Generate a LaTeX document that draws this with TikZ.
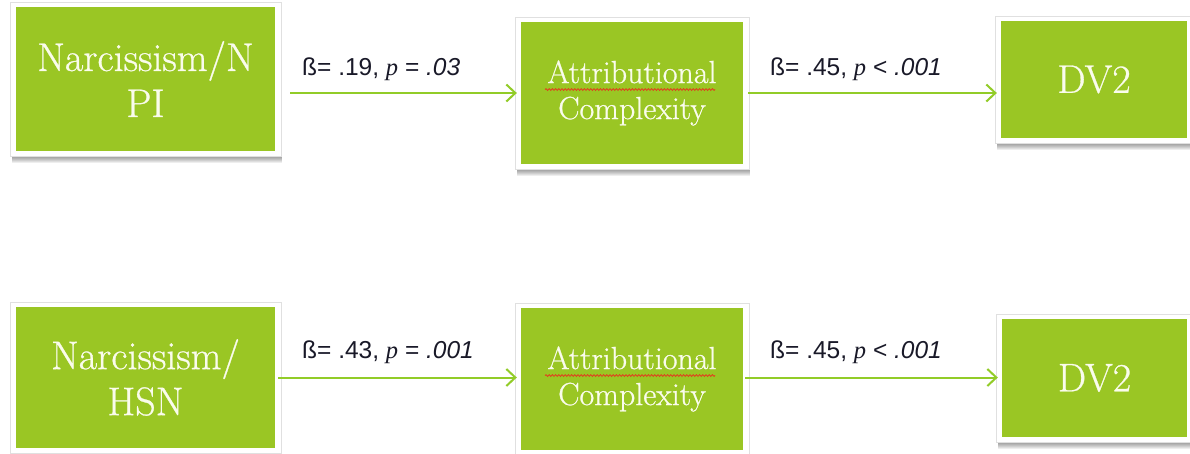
\documentclass[tikz,border=0pt]{standalone}
\usepackage{fontspec}
\newfontfamily\lsans{Liberation Sans}
\newfontfamily\lserif{Liberation Serif}
\newfontface\boxfont{lmroman17-regular.otf}[FakeBold=0.7]
\usetikzlibrary{arrows.meta,backgrounds,decorations.pathmorphing}
\definecolor{boxgreen}{RGB}{154,198,36}
\definecolor{arrgreen}{RGB}{146,204,40}
\definecolor{txtwhite}{RGB}{250,252,236}
\definecolor{labtxt}{RGB}{25,25,40}
\definecolor{squig}{RGB}{226,60,30}
\begin{document}
\begin{tikzpicture}[x=1pt,y=-1pt,
  box/.style={fill=boxgreen, inner sep=0pt, text=txtwhite, align=center,
    font=\boxfont\fontsize{40}{46}\selectfont},
  boxsmall/.style={box, font=\boxfont\fontsize{32}{36}\selectfont},
  conn/.style={draw=arrgreen, line width=2pt, -{Straight Barb[length=9pt,width=17pt]}},
  lab/.style={anchor=base west, inner sep=0pt, text=labtxt,
    font=\lsans\fontsize{24.5}{28}\selectfont},
  spell/.style={draw=squig, line width=0.8pt, decorate,
    decoration={snake, segment length=3.2pt, amplitude=0.9pt}}
]
\useasboundingbox (0,0) rectangle (1190,453);

% boxes
\node[box, minimum width=259pt, minimum height=144pt] (b1) at (145.5,79) {Narcissism/N\\PI};
\node[boxsmall, minimum width=222pt, minimum height=142pt] (b2) at (632,93) {Attributional\\Complexity};
\node[box, minimum width=186pt, minimum height=117pt] (b3) at (1094,79.5) {DV2};
\node[box, minimum width=259pt, minimum height=141pt] (b4) at (145.5,377.5) {Narcissism/\\HSN};
\node[boxsmall, minimum width=222pt, minimum height=142pt] (b5) at (632,379) {Attributional\\Complexity};
\node[box, minimum width=185pt, minimum height=118pt] (b6) at (1094.5,378) {DV2};

% page, frames and shadows
\begin{scope}[on background layer]
\fill[white] (0,0) rectangle (1190,453);
\foreach \n in {b1,b2,b3,b4,b5,b6}{
  \foreach \d in {6,7,8,9,10,11,12}{
    \fill[black,opacity=0.065] ([xshift=-4pt,yshift=-\d pt]\n.south west) rectangle ([xshift=7pt,yshift=-20pt]\n.north east);
  }
  \filldraw[fill=white, draw=black!12, line width=0.6pt] ([xshift=-6pt,yshift=-5pt]\n.south west) rectangle ([xshift=6pt,yshift=5pt]\n.north east);
}
\end{scope}

% spell-check underlines
\draw[spell] ([xshift=-87pt,yshift=3.5pt]b2.center) -- ([xshift=83pt,yshift=3.5pt]b2.center);
\draw[spell] ([xshift=-87pt,yshift=3.5pt]b5.center) -- ([xshift=83pt,yshift=3.5pt]b5.center);

% connectors
\path (b1.east |- b2.west) ++(15pt,0) coordinate (s1);
\draw[conn] (s1) -- ([xshift=-4pt]b2.west);
\path (b2.east) ++(5pt,0) coordinate (s2);
\coordinate (e2) at (b3.west |- b2.east);
\draw[conn] (s2) -- ([xshift=-4pt]e2);
\path (b4.east) ++(3pt,0) coordinate (s3);
\coordinate (e3) at (b5.west |- b4.east);
\draw[conn] (s3) -- ([xshift=-4pt]e3);
\path (b5.east |- b4.east) ++(2pt,0) coordinate (s4);
\coordinate (e4) at (b6.west |- b4.east);
\draw[conn] (s4) -- ([xshift=-4pt]e4);

% labels
\node[lab] (l1) at (302,75) {ß= .19, {\lserif\itshape p} = {\itshape .03}};
\node[lab] (l2) at (770,75) {ß= .45, {\lserif\itshape p} < {\itshape .001}};
\node[lab] (l3) at (302,358) {ß= .43, {\lserif\itshape p} = {\itshape .001}};
\node[lab] (l4) at (770,358) {ß= .45, {\lserif\itshape p} < {\itshape .001}};
\end{tikzpicture}
\end{document}
